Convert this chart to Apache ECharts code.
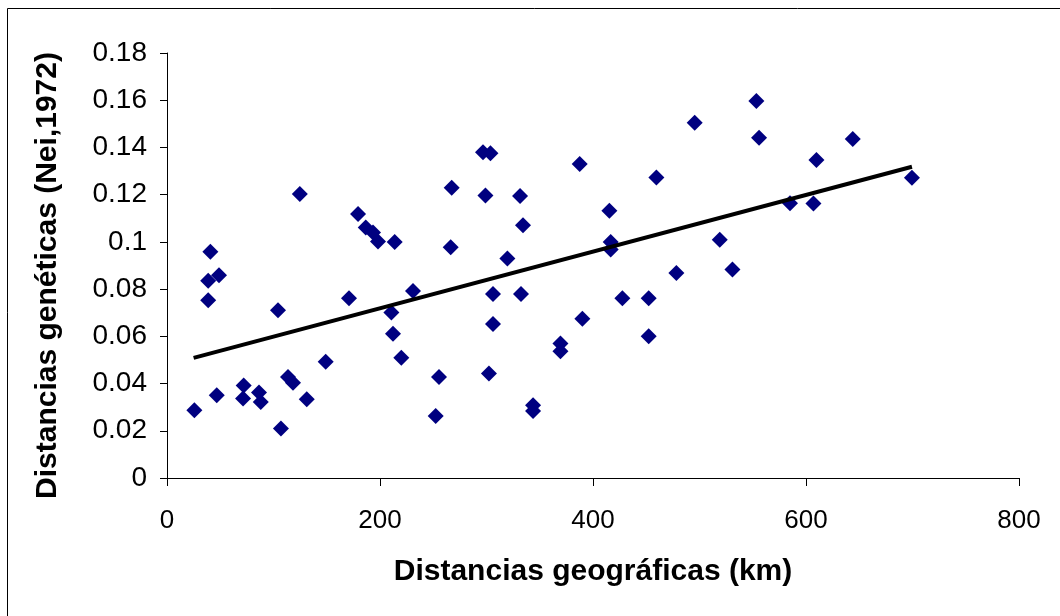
<!DOCTYPE html>
<html>
<head>
<meta charset="utf-8">
<title>Distancias genéticas vs geográficas</title>
<script src="https://cdn.jsdelivr.net/npm/echarts@6/dist/echarts.min.js"></script>
<style>
  html, body { margin: 0; padding: 0; background: #fff; }
  #myChart { width: 1060px; height: 616px; }
</style>
</head>
<body>
<div id="myChart"></div>
<script>
  // distancias geograficas (km)
  let distKm = [
    40.7, 124.7, 179.4, 186.6, 193.4, 198.1, 213.8, 267.3, 266.4, 38.7,
    48.8, 38.7, 104.2, 170.9, 210.7, 231, 212.2, 220, 149, 25.7,
    46.7, 72, 71.4, 86.4, 88, 113.6, 118.3, 131.2, 107, 255.4,
    252.3, 495.5, 296.7, 303.7, 387.5, 459.5, 299, 331.5, 415.4, 334.3,
    519, 416.6, 416.6, 319.6, 478.3, 530.9, 306.1, 332.4, 427.6, 452.3,
    306.1, 390, 452.3, 369.4, 369.4, 302.3, 343.7, 343.7, 553.4, 555.9,
    643.9, 609.8, 699.5, 585, 607
  ];
  // distancias geneticas (Nei,1972)
  let distNei = [
    0.0958, 0.1203, 0.1118, 0.1061, 0.104, 0.1002, 0.1, 0.1229, 0.0977, 0.0835,
    0.0859, 0.0753, 0.0711, 0.0761, 0.0701, 0.0792, 0.0611, 0.0509, 0.0492, 0.0287,
    0.0351, 0.0392, 0.0337, 0.0362, 0.0322, 0.0428, 0.0403, 0.0334, 0.021, 0.0428,
    0.0263, 0.1505, 0.138, 0.1375, 0.133, 0.1273, 0.1197, 0.1194, 0.1132, 0.107,
    0.1009, 0.1, 0.0968, 0.093, 0.0868, 0.0883, 0.0779, 0.0779, 0.0761, 0.0761,
    0.0652, 0.0674, 0.06, 0.057, 0.0537, 0.0443, 0.0308, 0.0284, 0.1597, 0.1441,
    0.1436, 0.1347, 0.1272, 0.1164, 0.1163
  ];
  // recta de tendencia (extremos)
  let trendX = [25, 699.5];
  let trendY = [0.0509, 0.1318];

  let font = 'Liberation Sans, Arial, sans-serif';

  let points = distKm.map((x, i) => [x, distNei[i]]);
  let trend = trendX.map((x, i) => [x, trendY[i]]);

  let myChart = echarts.init(document.getElementById('myChart'));

  let options = {
    animation: false,
    backgroundColor: '#fff',
    grid: { left: 167, right: 41, top: 53, bottom: 138 },
    // marco del area del grafico
    graphic: [{
      type: 'rect',
      shape: { x: 7.5, y: 8.5, width: 1070, height: 640 },
      style: { fill: 'none', stroke: '#000', lineWidth: 1 },
      silent: true
    }],
    xAxis: {
      type: 'value',
      min: 0,
      max: 800,
      interval: 200,
      name: 'Distancias geográficas (km)',
      nameLocation: 'middle',
      nameGap: 79,
      nameTextStyle: { fontFamily: font, fontSize: 30, fontWeight: 'bold', color: '#000' },
      axisLine: { onZero: false, lineStyle: { color: '#000', width: 1 } },
      axisTick: { show: true, length: 8, lineStyle: { color: '#000' } },
      axisLabel: { fontFamily: font, fontSize: 26, color: '#000', margin: 30 },
      splitLine: { show: false }
    },
    yAxis: {
      type: 'value',
      min: 0,
      max: 0.18,
      interval: 0.02,
      name: 'Distancias genéticas (Nei,1972)',
      nameLocation: 'middle',
      nameGap: 104,
      // desplaza el titulo un poco hacia abajo
      nameTextStyle: { fontFamily: font, fontSize: 30, fontWeight: 'bold', color: '#000', padding: [0, 20, 0, 0] },
      axisLine: { show: true, lineStyle: { color: '#000', width: 1 } },
      axisTick: { show: true, length: 7, lineStyle: { color: '#000' } },
      axisLabel: { fontFamily: font, fontSize: 28, color: '#000', margin: 20 },
      splitLine: { show: false }
    },
    series: [
      {
        name: 'datos',
        type: 'scatter',
        symbol: 'diamond',
        symbolSize: 16,
        itemStyle: { color: '#000080', opacity: 1 },
        data: points
      },
      {
        name: 'tendencia',
        type: 'line',
        symbol: 'none',
        lineStyle: { color: '#000', width: 4 },
        data: trend
      }
    ]
  };
  myChart.setOption(options);
</script>
</body>
</html>
